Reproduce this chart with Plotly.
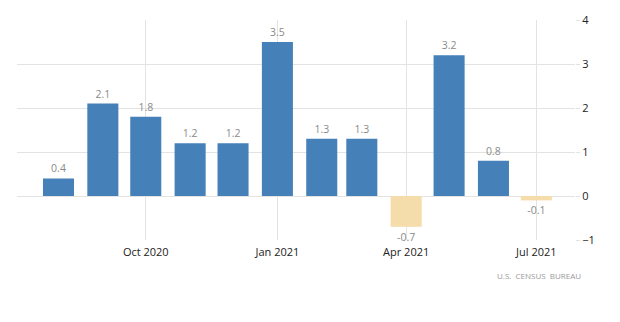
import plotly.graph_objects as go

# Monthly percent change, Aug 2020 - Jul 2021
months = ["2020-08-01", "2020-09-01", "2020-10-01", "2020-11-01", "2020-12-01",
          "2021-01-01", "2021-02-01", "2021-03-01", "2021-04-01", "2021-05-01",
          "2021-06-01", "2021-07-01"]
values = [0.4, 2.1, 1.8, 1.2, 1.2, 3.5, 1.3, 1.3, -0.7, 3.2, 0.8, -0.1]

tick_dates = ["2020-10-01", "2021-01-01", "2021-04-01", "2021-07-01"]
tick_labels = ["Oct 2020", "Jan 2021", "Apr 2021", "Jul 2021"]
y_ticks = [-1, 0, 1, 2, 3, 4]

POS = "#4580B8"
NEG = "#F5DCAB"
colors = [POS if v >= 0 else NEG for v in values]

DAY_MS = 86400000
fig = go.Figure(go.Bar(
    x=months,
    y=values,
    width=[21.7 * DAY_MS] * len(values),
    marker=dict(color=colors, line=dict(width=0)),
    text=[f"{v:.1f}" for v in values],
    textposition="outside",
    textfont=dict(color="#8a8a8a", size=10.5, family="Open Sans"),
    cliponaxis=False,
))

fig.update_layout(
    width=620,
    height=322,
    margin=dict(l=17, r=45, t=16, b=82),
    paper_bgcolor="white",
    plot_bgcolor="white",
    showlegend=False,
    font=dict(family="Open Sans", size=11, color="#333333"),
    xaxis=dict(
        type="date",
        range=["2020-07-03", "2021-07-28"],
        tickvals=tick_dates,
        ticktext=tick_labels,
        showgrid=True,
        gridcolor="#e3e3e3",
        gridwidth=1,
        zeroline=False,
        showline=False,
        ticks="",
        ticklabelstandoff=4,
        tickfont=dict(size=11, color="#222222"),
    ),
    yaxis=dict(
        side="right",
        range=[-1, 4],
        tickvals=y_ticks,
        showgrid=True,
        gridcolor="#e3e3e3",
        gridwidth=1,
        zeroline=False,
        showline=False,
        ticks="outside",
        ticklen=4,
        tickcolor="#e3e3e3",
        tickfont=dict(size=11, color="#222222"),
    ),
    annotations=[dict(
        text="U.S.  CENSUS  BUREAU",
        xref="paper", yref="paper",
        x=1.015, y=-0.16,
        xanchor="right", yanchor="middle",
        showarrow=False,
        font=dict(size=8, color="#999999", family="Open Sans"),
    )],
)

fig.write_html("out.html")
